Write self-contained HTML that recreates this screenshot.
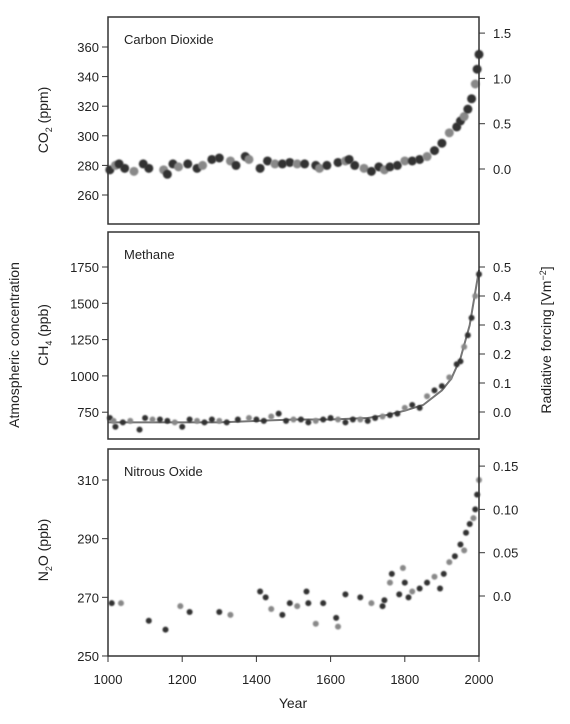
<!DOCTYPE html>
<html><head><meta charset="utf-8">
<style>
body{margin:0;background:#fff;}
svg{display:block;font-family:"Liberation Sans",sans-serif;}
text{fill:#222;}
</style></head>
<body>
<svg id="chart" width="570" height="724" viewBox="0 0 570 724" xmlns="http://www.w3.org/2000/svg">
<defs><filter id="bl" x="-50%" y="-50%" width="200%" height="200%"><feGaussianBlur stdDeviation="0.9"/></filter></defs>
<text transform="translate(19,345) rotate(-90)" text-anchor="middle" font-size="14">Atmospheric concentration</text>
<text transform="translate(551,340) rotate(-90)" text-anchor="middle" font-size="14">Radiative forcing [Vm<tspan dy="-5" font-size="9">−2</tspan><tspan dy="5">]</tspan></text>
<g id="g"></g>
</svg>
<script>
const co2Years=[1005,1020,1030,1045,1070,1095,1110,1150,1160,1175,1190,1215,1240,1255,1280,1300,1330,1345,1370,1380,1410,1430,1450,1470,1490,1510,1530,1560,1570,1590,1620,1640,1650,1665,1690,1710,1730,1745,1760,1780,1800,1820,1840,1860,1880,1900,1920,1940,1950,1960,1970,1980,1990,1995,2000];
const co2Vals=[277,280,281,278,276,281,278,277,274,281,279,281,278,280,284,285,283,280,286,284,278,283,281,281,282,281,281,280,278,280,282,283,284,280,278,276,279,277,279,280,283,283,284,286,290,295,302,306,310,313,318,325,335,345,355];
const ch4Years=[1005,1015,1020,1040,1060,1085,1100,1120,1140,1160,1180,1200,1220,1240,1260,1280,1300,1320,1350,1380,1400,1420,1440,1460,1480,1500,1520,1540,1560,1580,1600,1620,1640,1660,1680,1700,1720,1740,1760,1780,1800,1820,1840,1860,1880,1900,1920,1940,1950,1960,1970,1980,1990,2000];
const ch4Vals=[710,690,650,680,690,630,710,700,700,690,680,650,700,690,680,700,690,680,700,710,700,690,720,740,690,700,700,680,690,700,710,700,680,700,700,690,710,720,730,740,780,800,780,860,900,930,990,1080,1100,1200,1280,1400,1550,1700];
const ch4LineYears=[1000,1100,1200,1300,1400,1500,1600,1700,1750,1800,1850,1900,1925,1950,1975,2000];
const ch4LineVals=[680,680,680,680,690,700,700,710,730,760,800,900,980,1120,1350,1730];
const n2oYears=[1010,1035,1110,1155,1195,1220,1300,1330,1410,1425,1440,1470,1490,1510,1535,1540,1560,1580,1615,1620,1640,1680,1710,1740,1745,1760,1765,1785,1795,1800,1810,1820,1840,1860,1880,1895,1905,1920,1935,1950,1960,1965,1975,1985,1990,1995,2000];
const n2oVals=[268,268,262,259,267,265,265,264,272,270,266,264,268,267,272,268,261,268,263,260,271,270,268,267,269,275,278,271,280,275,270,272,273,275,277,273,278,282,284,288,286,292,295,297,300,305,310];
const xTicks=[1000,1200,1400,1600,1800,2000];
const co2Ticks=[260,280,300,320,340,360], co2R=['0.0','0.5','1.0','1.5'];
const ch4Ticks=[750,1000,1250,1500,1750], ch4R=['0.0','0.1','0.2','0.3','0.4','0.5'];
const n2oTicks=[250,270,290,310], n2oR=['0.0','0.05','0.10','0.15'];

const NS='http://www.w3.org/2000/svg', g=document.getElementById('g');
function el(t,a,p){const e=document.createElementNS(NS,t);for(const k in a)e.setAttribute(k,a[k]);(p||g).appendChild(e);return e;}
const L=108,R=479;
const x=v=>L+(v-1000)/1000*(R-L);
const panels=[
 {name:'co2',top:17,bot:224,title:'Carbon Dioxide',y:v=>47+(360-v)*1.48,ticks:co2Ticks,r:co2R,ry:i=>169-i*45.3,lab:['CO','2',' (ppm)'],ly:120,xs:co2Years,vs:co2Vals,rad:4.5},
 {name:'ch4',top:232,bot:439,title:'Methane',y:v=>267+(1750-v)*0.1452,ticks:ch4Ticks,r:ch4R,ry:i=>412-i*29,lab:['CH','4',' (ppb)'],ly:335,xs:ch4Years,vs:ch4Vals,rad:3,line:[ch4LineYears,ch4LineVals]},
 {name:'n2o',top:449,bot:656,title:'Nitrous Oxide',y:v=>480+(310-v)*2.933,ticks:n2oTicks,r:n2oR,ry:i=>596-i*43.3,lab:['N','2','O (ppb)'],ly:550,xs:n2oYears,vs:n2oVals,rad:3}
];
panels.forEach(p=>{
 const pg=el('g',{});
 
 
 if(p.line){const d=p.line[0].map((yr,i)=>(i?'L':'M')+x(yr).toFixed(1)+','+p.y(p.line[1][i]).toFixed(1)).join('');
  const ln=el('path',{d:d,fill:'none',stroke:'#777','stroke-width':2},pg);
  
  }
 p.xs.forEach((yr,i)=>{const c=el('circle',{cx:x(yr),cy:p.y(p.vs[i]),r:p.rad,fill:i%3==1?'#888':'#333',filter:'url(#bl)'},pg);
  
  });
 const fr=el('rect',{x:L,y:p.top,width:R-L,height:p.bot-p.top,fill:'none',stroke:'#333','stroke-width':1.5},pg);
 
 
 const t=el('text',{x:124,y:p.top+27,'font-size':13},pg);t.textContent=p.title;
 
 
 p.ticks.forEach(v=>{const yy=p.y(v);el('line',{x1:L-6,x2:L,y1:yy,y2:yy,stroke:'#333'},pg);
  const tl=el('text',{x:L-9,y:yy+5,'text-anchor':'end','font-size':13},pg);tl.textContent=v;
  
  });
 p.r.forEach((s,i)=>{const yy=p.ry(i);el('line',{x1:R,x2:R+6,y1:yy,y2:yy,stroke:'#333'},pg);
  const tl=el('text',{x:R+14,y:yy+5,'font-size':13},pg);tl.textContent=s;
  
  });
 const lb=el('text',{transform:`translate(48,${p.ly}) rotate(-90)`,'text-anchor':'middle','font-size':14},pg);
 
 
 const a=el('tspan',{},lb);a.textContent=p.lab[0];
 const b=el('tspan',{dy:4,'font-size':9},lb);b.textContent=p.lab[1];
 const c=el('tspan',{dy:-4},lb);c.textContent=p.lab[2];
});
xTicks.forEach(v=>{el('line',{x1:x(v),x2:x(v),y1:656,y2:662,stroke:'#333'});
 const tl=el('text',{x:x(v),y:684,'text-anchor':'middle','font-size':13});tl.textContent=v;
 
 });
const xt=el('text',{x:293,y:708,'text-anchor':'middle','font-size':14});xt.textContent='Year';


</script>
</body></html>
